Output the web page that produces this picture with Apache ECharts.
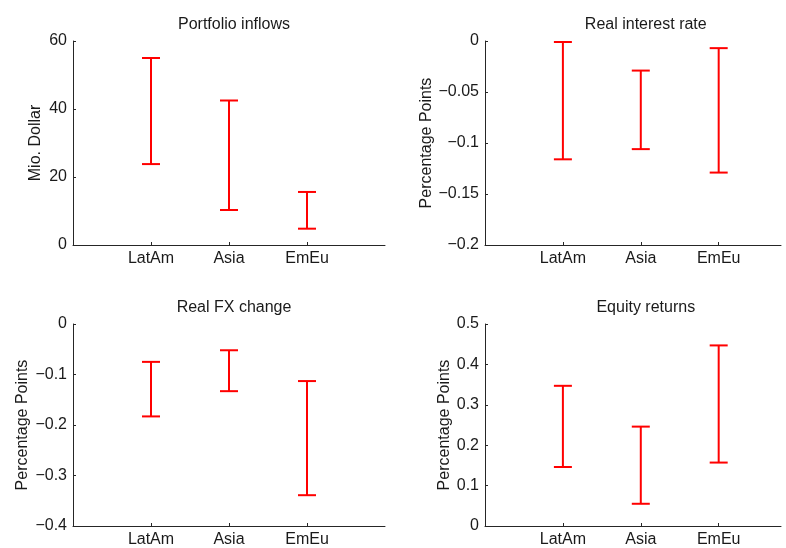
<!DOCTYPE html>
<html><head><meta charset="utf-8">
<script src="https://cdn.jsdelivr.net/npm/echarts@6/dist/echarts.min.js"></script>
<style>html,body{margin:0;padding:0;background:#fff}#c{width:786px;height:548px}</style>
</head><body><div id="c"></div>
<script>
const categories = ['LatAm', 'Asia', 'EmEu'];
const titles = ['Portfolio inflows', 'Real interest rate', 'Real FX change', 'Equity returns'];
const yNames = ['Mio. Dollar', 'Percentage Points', 'Percentage Points', 'Percentage Points'];

const inflowsLow  = [23.8, 10.3, 4.8];
const inflowsHigh = [55.0, 42.5, 15.6];
const rateLow  = [-0.116, -0.106, -0.129];
const rateHigh = [-0.001, -0.029, -0.007];
const fxLow  = [-0.183, -0.133, -0.339];
const fxHigh = [-0.075, -0.052, -0.113];
const eqLow  = [0.146, 0.055, 0.157];
const eqHigh = [0.347, 0.246, 0.447];

const yMin = [0, -0.2, -0.4, 0];
const yMax = [60, 0, 0, 0.5];
const yStep = [20, 0.05, 0.1, 0.1];

const lows = [inflowsLow, rateLow, fxLow, eqLow];
const highs = [inflowsHigh, rateHigh, fxHigh, eqHigh];

const FONT = 'Liberation Sans, Arial, Helvetica, sans-serif';
const AX = '#262626';

const grids = [
  {left: 73, top: 41, width: 312, height: 204},
  {left: 485, top: 41, width: 296, height: 204},
  {left: 73, top: 324, width: 312, height: 204},
  {left: 485, top: 324, width: 296, height: 204}
];
const xMax = [4, 3.8, 4, 3.8];
const nameGaps = [29, 50, 42, 32];
const titleTops = [12, 12, 295, 295];

function fmtNum(v) {
  let s = String(Math.round(v * 1000) / 1000);
  return s.replace('-', '\u2212');
}

const option = {
  animation: false,
  backgroundColor: '#fff',
  title: titles.map((t, i) => ({
    text: t,
    left: grids[i].left + grids[i].width * (i % 2 ? 4 / 3.8 : 1) / 2,
    textAlign: 'center',
    top: titleTops[i],
    textStyle: {fontFamily: FONT, fontSize: 16, fontWeight: 'normal', color: '#1a1a1a'}
  })),
  grid: grids,
  xAxis: grids.map((g, i) => ({
    type: 'value', gridIndex: i, min: 0, max: xMax[i], interval: 1,
    splitLine: {show: false},
    axisLine: {show: true, onZero: false, lineStyle: {color: AX, width: 1}},
    axisTick: {show: true, inside: true, length: 3, customValues: [1, 2, 3], lineStyle: {color: AX}},
    axisLabel: {customValues: [1, 2, 3], formatter: v => categories[v - 1] || '', fontFamily: FONT, fontSize: 16, color: '#1a1a1a', margin: 6}
  })),
  yAxis: grids.map((g, i) => ({
    type: 'value', gridIndex: i, min: yMin[i], max: yMax[i], interval: yStep[i],
    name: yNames[i], nameLocation: 'middle', nameGap: nameGaps[i], nameRotate: 90,
    nameTextStyle: {fontFamily: FONT, fontSize: 16, color: '#1a1a1a'},
    splitLine: {show: false},
    axisLine: {show: true, onZero: false, lineStyle: {color: AX, width: 1}},
    axisTick: {show: true, inside: true, length: 3, lineStyle: {color: AX}},
    axisLabel: {formatter: fmtNum, fontFamily: FONT, fontSize: 16, color: '#1a1a1a', margin: 6}
  })),
  series: lows.map((lo, i) => ({
    type: 'custom', xAxisIndex: i, yAxisIndex: i,
    data: categories.map((c, k) => [k + 1, lo[k], highs[i][k]]),
    renderItem: function (params, api) {
      const x = api.value(0);
      const pLo = api.coord([x, api.value(1)]);
      const pHi = api.coord([x, api.value(2)]);
      const hw = 9;
      const style = {stroke: '#ff0000', lineWidth: 2, fill: null};
      return {
        type: 'group',
        children: [
          {type: 'line', shape: {x1: pLo[0], y1: pLo[1], x2: pHi[0], y2: pHi[1]}, style: style},
          {type: 'line', shape: {x1: pLo[0] - hw, y1: pLo[1], x2: pLo[0] + hw, y2: pLo[1]}, style: style},
          {type: 'line', shape: {x1: pHi[0] - hw, y1: pHi[1], x2: pHi[0] + hw, y2: pHi[1]}, style: style}
        ]
      };
    }
  }))
};

const chart = echarts.init(document.getElementById('c'), null, {renderer: 'canvas'});
chart.setOption(option);
</script>
</body></html>
